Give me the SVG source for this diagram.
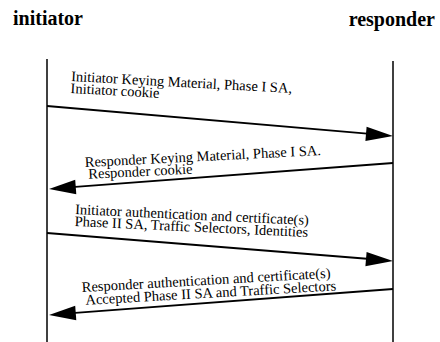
<svg xmlns="http://www.w3.org/2000/svg" width="440" height="342" viewBox="0 0 440 342">
<style>
.hdr{font-family:"Liberation Serif","Times New Roman",serif;font-weight:bold;font-size:20px;fill:#000}
.msg{font-family:"Liberation Serif","Times New Roman",serif;font-size:14.5px;fill:#000}
.life{stroke:#000;stroke-width:1.5;fill:none}
.arr{stroke:#000;stroke-width:1.8;fill:none}
.head{fill:#000;stroke:none}
</style>
<rect width="440" height="342" fill="#fff"/>
<g id="initiator">
<text class="hdr" x="13" y="25">initiator</text>
<line class="life" x1="47" y1="59" x2="47" y2="342"/>
</g>
<g id="responder">
<text class="hdr" x="435" y="26" text-anchor="end">responder</text>
<line class="life" x1="393" y1="61" x2="393" y2="342"/>
</g>
<g id="connectors">
<g id="msg1">
<line class="arr" x1="47" y1="106" x2="370" y2="133.8"/>
<polygon class="head" points="393,136 366.6,126.7 365.4,141.1"/>
<text class="msg" transform="rotate(3.1 71 81)"><tspan x="71" y="81">Initiator Keying Material, Phase I SA,</tspan><tspan x="71" y="93">Initiator cookie</tspan></text>
</g>
<g id="msg2">
<line class="arr" x1="393" y1="163" x2="72" y2="187.2"/>
<polygon class="head" points="49,189 75.2,179.8 76.3,194.2"/>
<text class="msg" transform="rotate(-2.9 85 167)"><tspan x="85" y="167">Responder Keying Material, Phase I SA.</tspan><tspan x="88" y="179">Responder cookie</tspan></text>
</g>
<g id="msg3">
<line class="arr" x1="47" y1="233" x2="370" y2="259"/>
<polygon class="head" points="393,261 366.6,251.9 365.4,266.3"/>
<text class="msg" transform="rotate(2.7 75 214)"><tspan x="75" y="214">Initiator authentication and certificate(s)</tspan><tspan x="75" y="226">Phase II SA, Traffic Selectors, Identities</tspan></text>
</g>
<g id="msg4">
<line class="arr" x1="393" y1="289" x2="72" y2="313.2"/>
<polygon class="head" points="49,315 75.2,305.8 76.3,320.2"/>
<text class="msg" transform="rotate(-3.3 82 292)"><tspan x="82" y="292">Responder authentication and certificate(s)</tspan><tspan x="85" y="305">Accepted Phase II SA and Traffic Selectors</tspan></text>
</g>
</g>
</svg>
